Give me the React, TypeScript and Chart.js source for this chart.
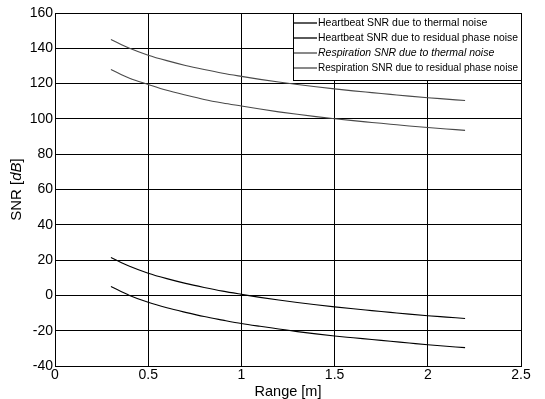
import React, { useEffect, useRef } from "react";
import { Chart, registerables } from "chart.js";

Chart.register(...registerables);

// Range samples [m]
const ranges = [0.3, 0.4, 0.5, 0.6, 0.7, 0.8, 0.9, 1.0, 1.1, 1.2, 1.3, 1.4, 1.5, 1.6, 1.7, 1.8, 1.9, 2.0, 2.1, 2.2];

// SNR curves [dB]
const heartbeatThermal = [21.5, 16.5, 12.6, 9.5, 6.8, 4.5, 2.4, 0.6, -1.1, -2.6, -4, -5.3, -6.5, -7.6, -8.6, -9.6, -10.6, -11.5, -12.3, -13.1];
const heartbeatResidual = [5, 0, -3.9, -7, -9.6, -12, -14, -15.9, -17.5, -19, -20.5, -21.8, -23, -24, -25, -26, -27, -28, -28.8, -29.6];
const respirationThermal = [145, 140, 136.1, 133, 130.3, 128, 125.9, 124.1, 122.4, 120.9, 119.5, 118.2, 117, 115.9, 114.9, 113.9, 112.9, 112, 111.2, 110.4];
const respirationResidual = [128, 123, 119.5, 116.2, 113.5, 111, 109, 107.3, 105.6, 104, 102.6, 101.3, 100.1, 99, 98, 97, 96, 95.1, 94.3, 93.5];

const seriesLabels = [
  "Heartbeat SNR due to thermal noise",
  "Heartbeat SNR due to residual phase noise",
  "Respiration SNR due to thermal noise",
  "Respiration SNR due to residual phase noise",
];
const seriesValues = [heartbeatThermal, heartbeatResidual, respirationThermal, respirationResidual];
const seriesColors = ["#000000", "#000000", "#4a4a4a", "#4a4a4a"];
const seriesItalic = [false, false, true, false];

const xTickValues = [0, 0.5, 1, 1.5, 2, 2.5];
const yTickValues = [-40, -20, 0, 20, 40, 60, 80, 100, 120, 140, 160];

const FONT = 'Arial, "Liberation Sans", sans-serif';

const decorations = {
  id: "decorations",
  afterDraw(chart: any) {
    const { ctx, chartArea: a } = chart;
    ctx.save();

    // Legend box in the upper right corner
    const lw = 228;
    const lh = 67;
    const lx = a.right - lw;
    const ly = a.top;
    ctx.fillStyle = "#ffffff";
    ctx.fillRect(lx, ly, lw, lh);
    ctx.strokeStyle = "#000000";
    ctx.lineWidth = 1;
    ctx.strokeRect(Math.round(lx) + 0.5, Math.round(ly) + 0.5, lw, lh);
    const rowStart = 10;
    const rowGap = 15;
    seriesLabels.forEach((label, i) => {
      const y = ly + rowStart + i * rowGap;
      ctx.strokeStyle = seriesColors[i];
      ctx.lineWidth = 1.3;
      ctx.beginPath();
      ctx.moveTo(lx + 1, y);
      ctx.lineTo(lx + 24, y);
      ctx.stroke();
      ctx.fillStyle = "#000000";
      ctx.font = (seriesItalic[i] ? "italic " : "") + "10.5px " + FONT;
      ctx.textBaseline = "middle";
      ctx.textAlign = "left";
      ctx.fillText(label, lx + 25, y, lw - 28);
    });

    // Axis titles
    ctx.fillStyle = "#000000";
    ctx.textBaseline = "middle";
    ctx.font = "14.5px " + FONT;
    ctx.textAlign = "center";
    ctx.fillText("Range [m]", (a.left + a.right) / 2, chart.height - 7);

    // "SNR [dB]" rotated, with the unit in italics
    const parts = [
      { t: "SNR [", it: false },
      { t: "dB", it: true },
      { t: "]", it: false },
    ];
    const fontFor = (it: boolean) => (it ? "italic " : "") + "15px " + FONT;
    let total = 0;
    parts.forEach((p) => {
      ctx.font = fontFor(p.it);
      total += ctx.measureText(p.t).width;
    });
    ctx.translate(17, (a.top + a.bottom) / 2 + 0);
    ctx.rotate(-Math.PI / 2);
    ctx.textAlign = "left";
    let x = -total / 2;
    parts.forEach((p) => {
      ctx.font = fontFor(p.it);
      ctx.fillText(p.t, x, 0);
      x += ctx.measureText(p.t).width;
    });
    ctx.restore();
  },
};

export default function App() {
  const canvasRef = useRef<HTMLCanvasElement | null>(null);

  useEffect(() => {
    const canvas = canvasRef.current;
    if (!canvas) return;
    const datasets = seriesLabels.map((label, i) => ({
      label,
      data: ranges.map((r, j) => ({ x: r, y: seriesValues[i][j] })),
      borderColor: seriesColors[i],
      borderWidth: 1.1,
      pointRadius: 0,
      fill: false,
      cubicInterpolationMode: "monotone" as const,
    }));

    const chart = new Chart(canvas, {
      type: "line",
      data: { datasets },
      options: {
        animation: false,
        responsive: false,
        layout: { padding: { top: 13, right: 24, left: 0, bottom: 0 } },
        plugins: {
          legend: { display: false },
          tooltip: { enabled: false },
        },
        scales: {
          x: {
            type: "linear",
            min: xTickValues[0],
            max: xTickValues[xTickValues.length - 1],
            afterBuildTicks: (scale: any) => {
              scale.ticks = xTickValues.map((v) => ({ value: v }));
            },
            afterFit: (scale: any) => {
              scale.height = 33;
            },
            ticks: {
              color: "#000000",
              font: { family: FONT, size: 14 },
              padding: 1,
              maxRotation: 0,
              callback: (v: any) => String(v),
            },
            grid: { color: "#000000", lineWidth: 1, drawTicks: false },
            border: { color: "#000000", width: 1 },
          },
          y: {
            type: "linear",
            min: yTickValues[0],
            max: yTickValues[yTickValues.length - 1],
            afterBuildTicks: (scale: any) => {
              scale.ticks = yTickValues.map((v) => ({ value: v }));
            },
            afterFit: (scale: any) => {
              scale.width = 55;
            },
            ticks: {
              color: "#000000",
              font: { family: FONT, size: 14 },
              padding: 2,
              callback: (v: any) => String(v),
            },
            grid: { color: "#000000", lineWidth: 1, drawTicks: false },
            border: { color: "#000000", width: 1 },
          },
        },
      },
      plugins: [decorations],
    });
    return () => chart.destroy();
  }, []);

  return (
    <div style={{ position: "fixed", left: 0, top: 0, width: 545, height: 399, background: "#ffffff" }}>
      <canvas ref={canvasRef} width={545} height={399} style={{ display: "block" }} />
    </div>
  );
}
